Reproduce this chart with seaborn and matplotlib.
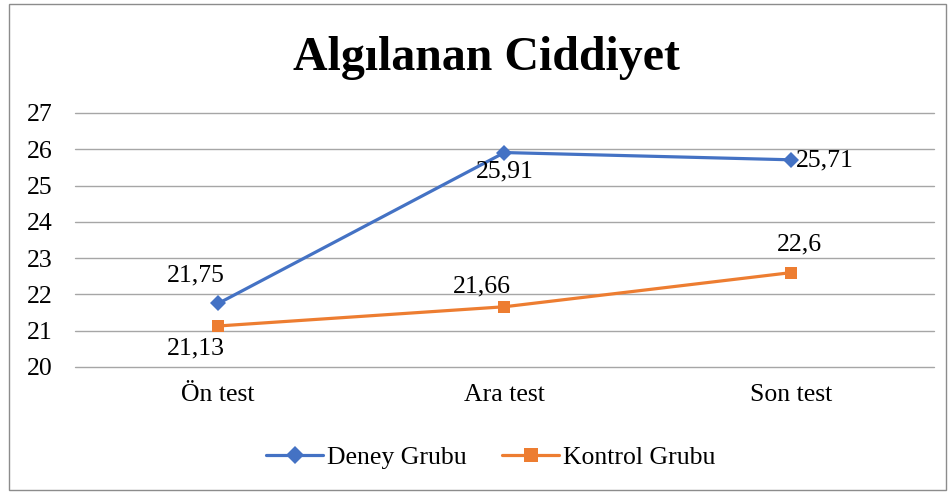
import matplotlib
matplotlib.use("Agg")
import matplotlib.pyplot as plt
import seaborn as sns
import pandas as pd
from matplotlib.patches import Rectangle

categories = ["Ön test", "Ara test", "Son test"]
deney = [21.75, 25.91, 25.71]
kontrol = [21.13, 21.66, 22.6]
series_names = ["Deney Grubu", "Kontrol Grubu"]

df = pd.DataFrame({
    "Test": categories * 2,
    "Puan": deney + kontrol,
    "Grup": [series_names[0]] * 3 + [series_names[1]] * 3,
})

sns.set_theme(style="white")
plt.rcParams["font.family"] = ["Liberation Serif", "DejaVu Serif"]
plt.rcParams["text.color"] = "#000000"

fig = plt.figure(figsize=(9.53, 4.93), dpi=100)
ax = fig.add_axes([0.0787, 0.2556, 0.9013, 0.5152])

colors = {"Deney Grubu": "#4472C4", "Kontrol Grubu": "#ED7D31"}
markers = {"Deney Grubu": "D", "Kontrol Grubu": "s"}
sizes = {"Deney Grubu": 8, "Kontrol Grubu": 9}

for name in series_names:
    sub = df[df["Grup"] == name]
    sns.lineplot(data=sub, x="Test", y="Puan", ax=ax, color=colors[name],
                 marker=markers[name], markersize=sizes[name], linewidth=2.3,
                 markeredgewidth=0, label=name, sort=False)

ax.set_xlim(-0.5, 2.5)
ax.set_ylim(20, 27)
ax.set_yticks(range(20, 28))
ax.yaxis.grid(True, color="#a6a6a6", linewidth=1.0)
for gl in ax.get_ygridlines():
    gl.set_clip_on(False)
ax.xaxis.grid(False)
for s in ax.spines.values():
    s.set_visible(False)
ax.set_xlabel("")
ax.set_ylabel("")
ax.tick_params(axis="both", length=0, labelsize=18.5, colors="#000000")
ax.tick_params(axis="y", pad=35)
ax.tick_params(axis="x", pad=12)
for lbl in ax.get_yticklabels():
    lbl.set_horizontalalignment("left")

def fmt(v):
    return f"{v:g}".replace(".", ",")

# value labels: (series, index) -> dx, dy in pixels, alignment
label_offsets = {
    ("Deney Grubu", 0): (-22, 28, "center"),
    ("Deney Grubu", 1): (0, -19, "center"),
    ("Deney Grubu", 2): (5, -1, "left"),
    ("Kontrol Grubu", 0): (-22, -22, "center"),
    ("Kontrol Grubu", 1): (-23, 20, "center"),
    ("Kontrol Grubu", 2): (9, 28, "center"),
}
for name, vals in zip(series_names, [deney, kontrol]):
    for i, v in enumerate(vals):
        dx, dy, ha = label_offsets[(name, i)]
        ax.annotate(fmt(v), (i, v), xytext=(dx, dy), textcoords="offset pixels",
                    ha=ha, va="center", fontsize=18.5, color="#000000")

fig.text(0.51, 0.882, "Algılanan Ciddiyet", ha="center", va="center",
         fontsize=34.5, fontweight="bold", color="#000000")

leg = ax.legend(loc="center", bbox_to_anchor=(0.484, -0.355), ncol=2, frameon=False,
                fontsize=18.5, handlelength=2.2, columnspacing=1.4, handletextpad=0.15,
                labelcolor="#000000")
for h in leg.legend_handles:
    h.set_markersize(h.get_markersize() * 1.1)

fig.patches.append(Rectangle((0.009, 0.006), 0.984, 0.985, transform=fig.transFigure,
                             fill=False, edgecolor="#8c8c8c", linewidth=1.0))

fig.savefig("out.png", dpi=100, facecolor="white")
